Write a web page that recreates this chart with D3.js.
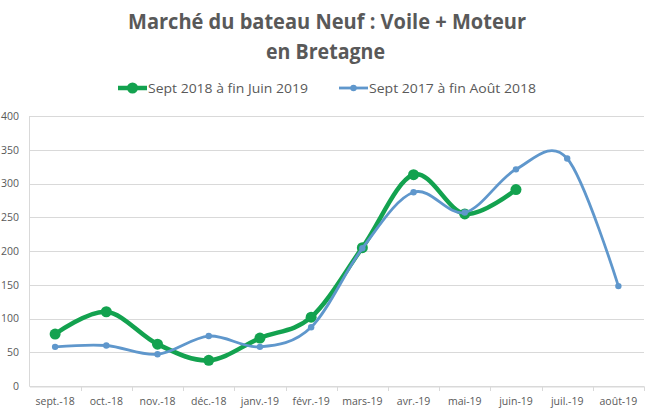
<!DOCTYPE html>
<html><head><meta charset="utf-8">
<script src="https://cdn.jsdelivr.net/npm/d3@7"></script>
<style>body{margin:0;background:#fff}svg{display:block}</style>
</head><body>
<script>
const categories = ["sept.-18","oct.-18","nov.-18","déc.-18","janv.-19","févr.-19","mars-19","avr.-19","mai-19","juin-19","juil.-19","août-19"];
const seriesNames = ["Sept 2018 à fin Juin 2019","Sept 2017 à fin Août 2018"];
const green = [77,110,62,38,71,102,205,313,255,291];
const blue = [58,60,47,74,58,87,204,287,257,321,337,148];
const yTicks = [0,50,100,150,200,250,300,350,400];

const W=653,H=414;
const svg=d3.select("body").append("svg").attr("width",W).attr("height",H);
const font="'Open Sans', sans-serif";
const grey="#595959";
const x=d3.scaleBand().domain(categories).range([29.5,644]);
const y=d3.scaleLinear().domain([0,400]).range([386,116]);

// gridlines
svg.append("g").selectAll("line").data(yTicks).join("line")
  .attr("x1",29.5).attr("x2",644).attr("y1",d=>Math.round(y(d))+0.5).attr("y2",d=>Math.round(y(d))+0.5)
  .attr("stroke","#d9d9d9").attr("stroke-width",1);
svg.append("line").attr("x1",29.5).attr("x2",29.5).attr("y1",116).attr("y2",386.5).attr("stroke","#d9d9d9");
// x axis
const xa=svg.append("g").attr("transform","translate(0,386.5)")
  .call(d3.axisBottom(x).tickSize(0).tickPadding(11));
xa.select(".domain").attr("stroke","#d9d9d9");
xa.selectAll("text").attr("font-family",font).attr("font-size","10.5px").attr("fill",grey);
// category boundary ticks
svg.append("g").selectAll("line").data(categories).join("line")
  .attr("x1",(d,i)=>Math.round(x(categories[0])+x.step()*(i+1))+0.5)
  .attr("x2",(d,i)=>Math.round(x(categories[0])+x.step()*(i+1))+0.5)
  .attr("y1",386.5).attr("y2",391).attr("stroke","#d9d9d9");
// y axis labels
const ya=svg.append("g").attr("transform","translate(19,0)")
  .call(d3.axisLeft(y).tickValues(yTicks).tickSize(0).tickPadding(0));
ya.select(".domain").remove();
ya.selectAll("text").attr("font-family",font).attr("font-size","10.5px").attr("fill",grey);

const cx=(d,i)=>x(categories[i])+x.bandwidth()/2;
const line=d3.line().x(cx).y(d=>y(d)).curve(d3.curveCatmullRom.alpha(0));
const gc="#13a24f", bc="#5f97cc";
svg.append("path").attr("d",line(green)).attr("fill","none").attr("stroke",gc).attr("stroke-width",4.5);
svg.append("g").selectAll("circle").data(green).join("circle")
  .attr("cx",cx).attr("cy",d=>y(d)).attr("r",5.5).attr("fill",gc);
svg.append("path").attr("d",line(blue)).attr("fill","none").attr("stroke",bc).attr("stroke-width",2.8);
svg.append("g").selectAll("circle").data(blue).join("circle")
  .attr("cx",cx).attr("cy",d=>y(d)).attr("r",3.2).attr("fill",bc);

// title
svg.append("text").attr("x",327).attr("y",28.5).attr("text-anchor","middle")
  .attr("font-family",font).attr("font-weight","bold").attr("font-size","20.5px").attr("fill",grey)
  .attr("textLength",398).attr("lengthAdjust","spacingAndGlyphs")
  .text("Marché du bateau Neuf : Voile + Moteur");
svg.append("text").attr("x",325.5).attr("y",58.5).attr("text-anchor","middle")
  .attr("font-family",font).attr("font-weight","bold").attr("font-size","20.5px").attr("fill",grey)
  .attr("textLength",119).attr("lengthAdjust","spacingAndGlyphs")
  .text("en Bretagne");

// legend
const leg=[{name:seriesNames[0],c:gc,w:4.5,r:5.5,x0:118,tw:160},{name:seriesNames[1],c:bc,w:2.8,r:3.2,x0:339,tw:167}];
const lg=svg.append("g").selectAll("g").data(leg).join("g");
lg.append("line").attr("x1",d=>d.x0).attr("x2",d=>d.x0+29).attr("y1",88).attr("y2",88)
  .attr("stroke",d=>d.c).attr("stroke-width",d=>d.w);
lg.append("circle").attr("cx",d=>d.x0+14.5).attr("cy",88).attr("r",d=>d.r).attr("fill",d=>d.c);
lg.append("text").attr("x",d=>d.x0+30).attr("y",93).attr("font-family",font).attr("font-size","13.5px")
  .attr("fill",grey).attr("textLength",d=>d.tw).attr("lengthAdjust","spacingAndGlyphs").text(d=>d.name);
</script>
</body></html>
